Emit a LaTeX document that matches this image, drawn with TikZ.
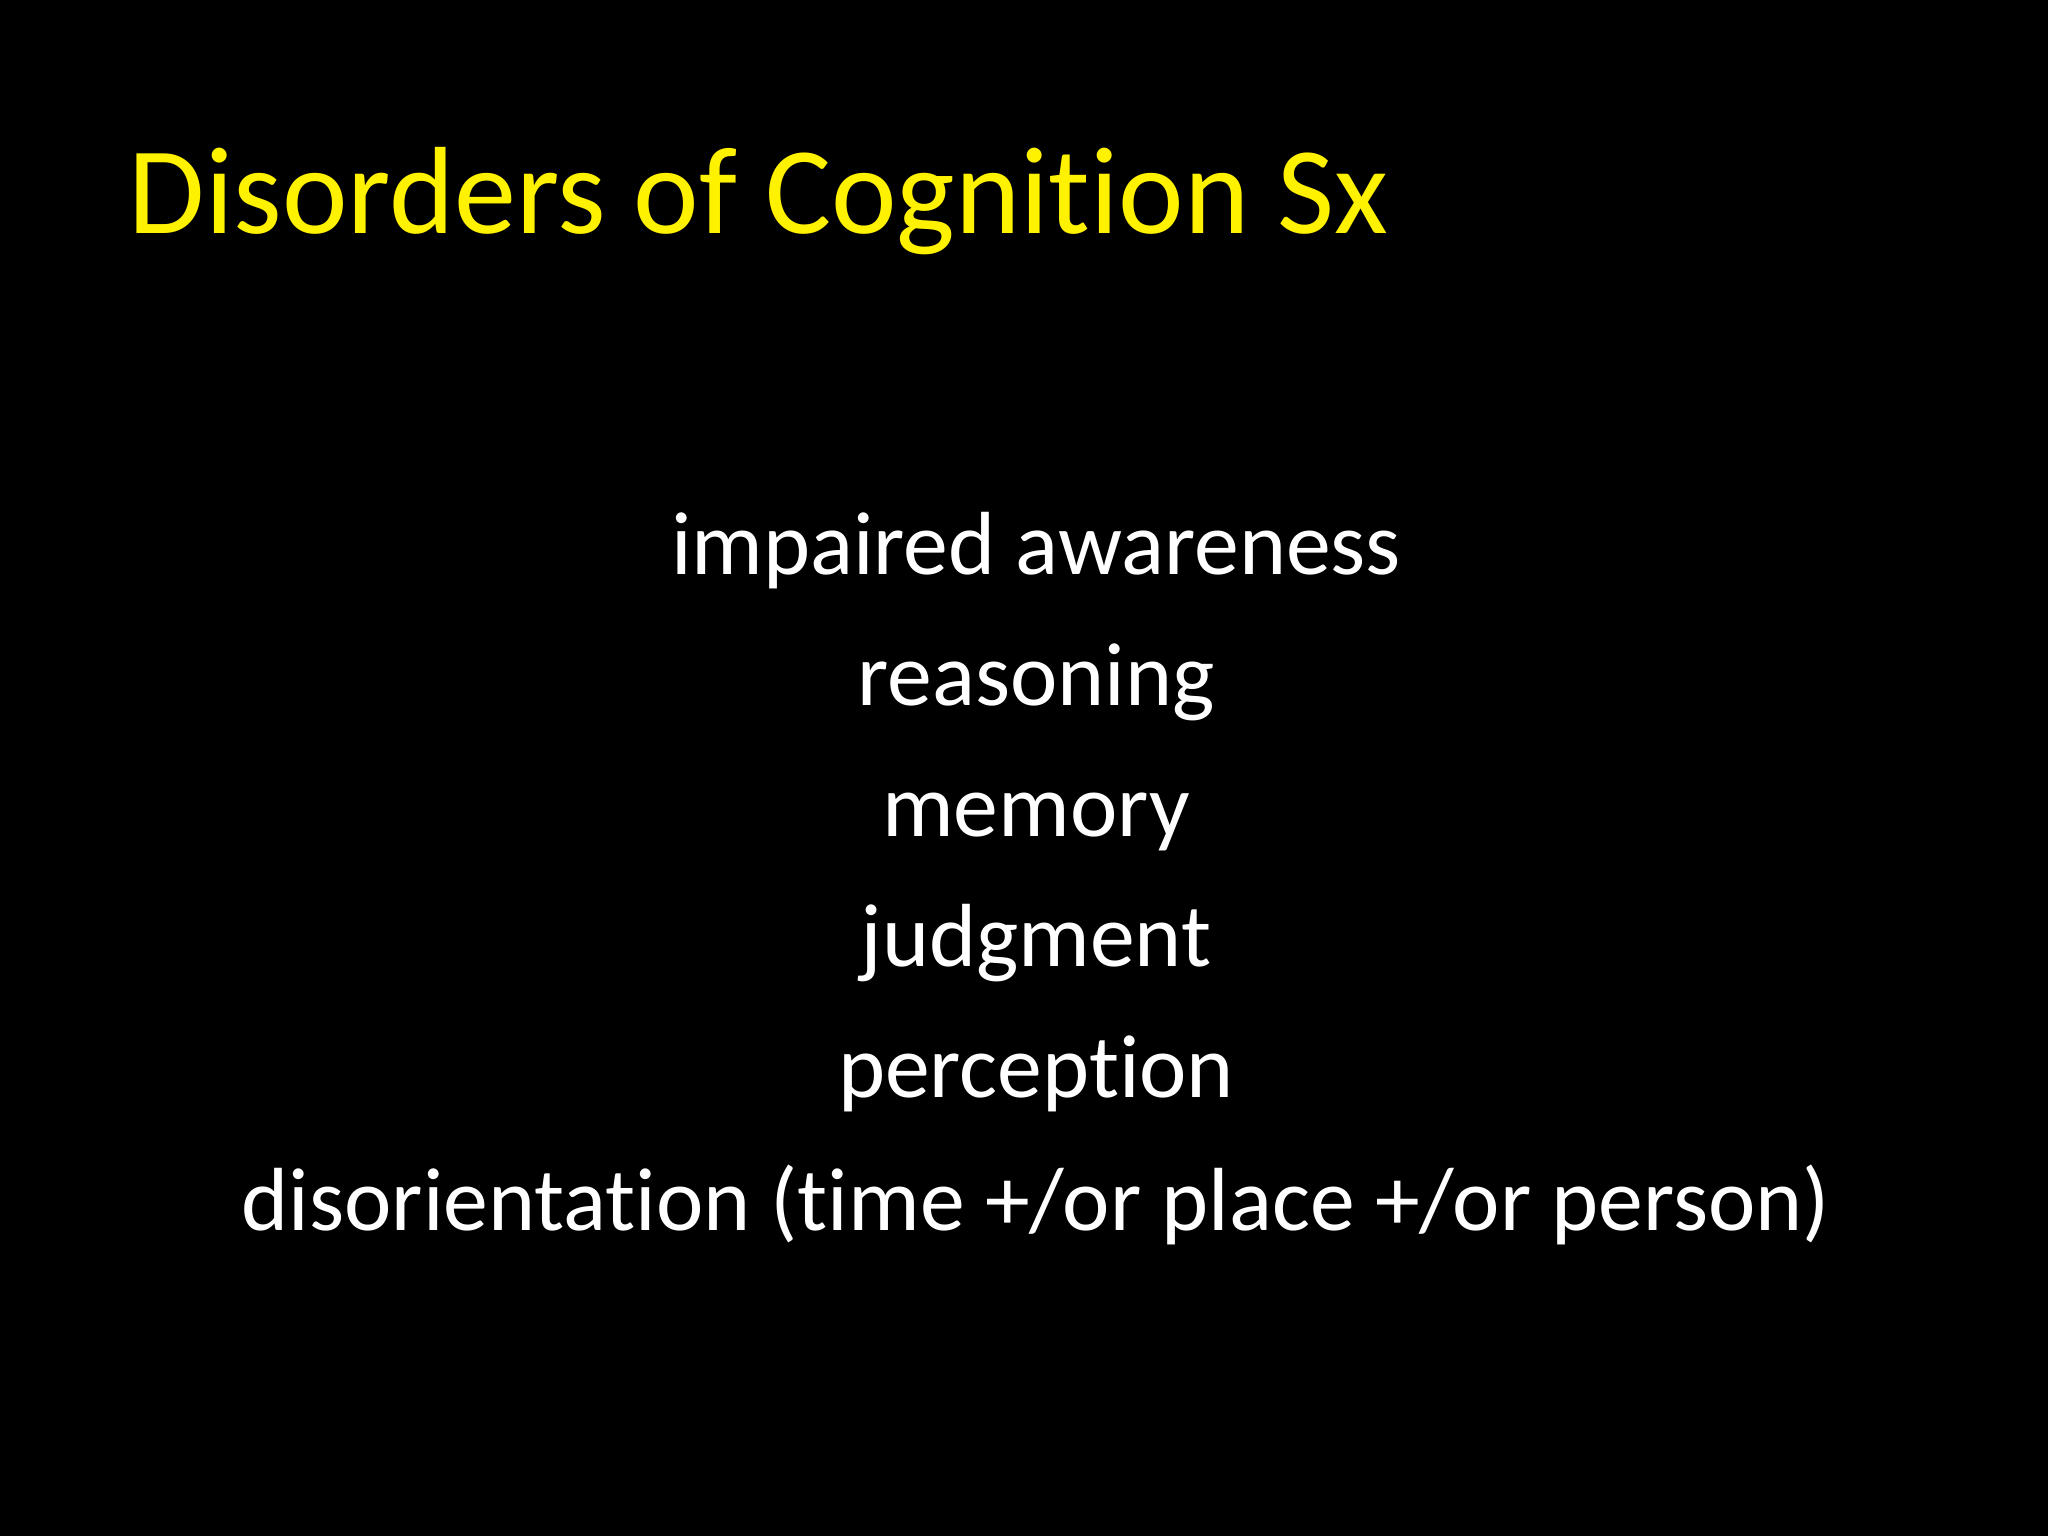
\documentclass[tikz,border=0pt]{standalone}
\usepackage{fontspec}
\setmainfont[Ligatures=NoCommon]{Carlito}
\begin{document}
\begin{tikzpicture}[x=0.01cm,y=-0.01cm,
  body/.style={text=white,font=\fontsize{25.5}{28}\selectfont,anchor=base,inner sep=0}]
\fill[black] (0,0) rectangle (2048,1536);
\useasboundingbox (0,0) rectangle (2048,1536);
\node[text=yellow,font=\fontsize{35.3}{38}\selectfont,anchor=base west,inner sep=0] (title) at (128,233) {Disorders of Cognition Sx};
\node[body] (l1) at (1036,574) {impaired awareness};
\node[body] (l2) at (1036,705) {reasoning};
\node[body] (l3) at (1036,836) {memory};
\node[body] (l4) at (1036,966) {judgment};
\node[body] (l5) at (1036,1097) {perception};
\node[body] (l6) at (1036,1230) {disorientation (time +/or place +/or person)};
\end{tikzpicture}
\end{document}
